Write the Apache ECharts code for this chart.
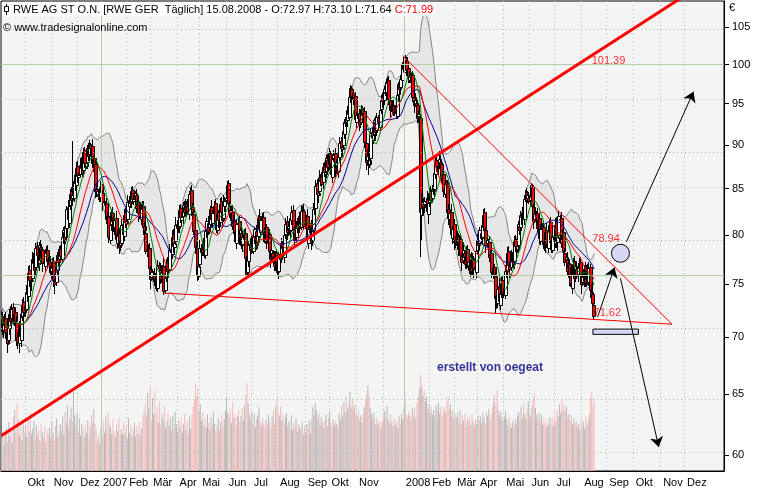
<!DOCTYPE html>
<html><head><meta charset="utf-8">
<script src="https://cdn.jsdelivr.net/npm/echarts@6/dist/echarts.min.js"></script>
<style>html,body{margin:0;padding:0;background:#fff}#c{width:760px;height:490px}</style>
</head><body><div id="c"></div>
<script>
// ---------- data (RWE AG, daily, 04.09.2006 - 15.08.2008), estimated from the chart ----------
const closeP = [
72.0,70.6,71.3,71.5,70.5,69.5,71.2,72.2,71.5,72.6,
71.7,72.2,71.5,69.7,69.6,71.2,70.1,71.9,73.0,72.3,
72.9,74.3,74.1,76.1,75.4,75.4,77.5,77.7,76.4,78.7,
77.9,77.0,79.0,77.4,78.6,77.1,77.2,78.2,78.2,77.3,
77.5,76.2,76.8,76.9,75.4,75.0,76.8,77.9,77.2,78.4,
77.8,79.8,80.5,79.5,80.8,82.8,81.7,83.1,84.4,83.8,
84.3,85.9,85.6,87.3,86.4,86.5,87.7,88.2,86.8,89.2,
87.9,87.9,89.7,88.7,90.1,89.7,87.9,88.4,87.5,84.8,
84.7,84.2,84.3,85.2,84.6,83.5,83.7,83.3,81.7,81.7,
79.8,81.1,82.5,81.5,81.0,81.6,79.6,80.1,79.9,78.8,
79.5,81.1,80.1,82.1,81.4,81.5,83.5,83.8,83.4,84.7,
83.9,83.9,84.5,82.9,83.6,82.3,82.1,82.9,82.8,80.8,
80.5,78.4,78.6,78.4,76.6,75.5,76.2,75.9,75.3,75.4,
75.0,76.8,76.6,75.5,76.2,76.6,74.4,75.6,76.9,76.3,
76.8,78.5,78.2,79.8,78.9,79.2,81.1,81.2,80.7,82.7,
81.9,81.9,83.2,82.5,83.4,82.9,82.6,84.4,84.6,82.8,
82.5,80.4,78.8,78.4,75.9,76.8,78.7,78.7,78.3,79.2,
78.2,80.4,81.5,80.5,81.3,82.8,81.7,82.3,83.1,81.3,
80.8,82.3,81.6,83.3,82.4,81.6,83.5,83.7,84.0,85.4,
83.4,82.2,82.7,81.0,81.6,80.2,79.6,81.2,81.2,79.8,
80.5,79.0,79.8,79.9,77.6,76.0,77.7,79.0,78.5,79.4,
78.7,79.8,80.6,79.0,80.0,81.8,80.7,81.6,81.6,80.1,
79.8,80.8,79.4,79.8,78.4,77.5,78.5,77.7,76.8,77.9,
77.2,76.2,78.0,77.5,79.2,78.7,78.1,80.0,81.2,80.3,
81.0,80.4,81.8,82.4,80.6,79.6,80.2,81.1,80.7,82.0,
81.2,82.6,82.8,81.0,81.3,81.8,79.6,80.6,80.8,79.3,
80.8,82.8,83.1,85.3,84.4,84.5,86.3,86.2,85.5,87.4,
86.9,86.9,88.5,87.5,89.1,87.7,86.7,88.4,88.8,87.1,
88.0,86.9,88.8,90.2,89.6,89.8,91.7,92.7,92.7,94.2,
93.7,95.8,97.0,96.0,95.6,95.8,93.1,93.6,93.6,92.5,
93.1,94.3,93.6,93.8,90.4,88.0,88.7,87.7,88.2,91.4,
90.9,91.2,93.0,91.5,93.4,92.7,92.6,94.2,95.5,95.3,
96.8,96.4,97.8,97.7,95.6,94.2,94.7,94.7,94.0,94.4,
93.8,96.1,97.5,96.8,98.1,100.0,99.4,100.9,100.1,99.3,
98.3,98.5,98.4,98.3,95.9,94.8,95.5,94.7,93.2,93.7,
82.4,82.9,83.5,83.0,83.6,83.7,82.6,83.4,84.5,83.8,
85.0,84.9,86.8,87.9,87.6,87.5,88.4,87.7,86.2,86.4,
84.7,85.6,85.5,82.5,81.8,82.3,80.1,80.6,80.9,79.3,
79.3,79.8,78.6,79.3,77.9,77.2,78.5,77.7,77.0,78.4,
77.2,76.4,77.7,76.3,77.6,76.5,76.6,78.4,79.5,79.0,
80.5,79.7,81.1,82.1,80.6,79.0,79.5,79.2,77.7,77.9,
76.2,76.6,76.0,73.7,73.3,74.6,73.4,74.1,75.1,74.1,
74.3,76.3,76.6,78.1,76.9,76.5,77.7,77.8,77.0,79.4,
78.9,78.9,81.2,80.5,82.1,82.0,82.1,83.9,84.3,83.8,
84.3,83.7,84.3,85.4,83.1,81.5,82.2,82.2,80.7,81.6,
79.7,80.6,81.0,79.1,79.1,80.3,79.1,80.4,81.1,79.3,
78.8,79.8,79.4,81.1,79.4,79.8,82.0,81.7,79.2,80.1,
78.4,77.2,77.7,76.3,77.1,75.7,75.1,75.9,77.0,75.6,
76.8,75.9,76.8,76.9,75.9,75.0,75.7,76.5,75.2,76.4,
75.5,76.6,74.5,73.8,73.2,71.99];

const openP = [
71.8,71.7,70.7,71.1,71.8,70.4,69.7,70.8,72.3,71.8,
72.8,71.4,72.3,71.3,70.0,69.5,71.4,69.7,72.0,73.3,
72.5,72.6,74.4,73.9,76.4,75.3,75.6,77.1,77.8,76.7,
78.9,77.6,77.1,78.8,77.7,78.5,77.3,76.8,78.3,78.5,
77.5,77.2,76.3,76.6,77.2,75.3,75.2,76.4,78.0,77.5,
78.6,77.5,79.9,80.3,79.8,80.7,83.0,81.3,83.2,84.7,
84.0,84.0,86.0,85.4,87.6,86.3,86.7,87.3,88.3,87.1,
89.4,87.6,88.0,89.5,89.0,90.0,89.9,87.5,88.5,87.8,
85.0,84.4,84.3,84.1,85.5,84.5,83.7,83.3,83.4,82.0,
81.9,79.5,81.2,82.3,81.8,80.9,81.8,79.2,80.2,80.2,
79.0,79.2,81.2,79.9,82.4,81.3,81.7,83.1,83.9,83.7,
84.9,83.6,84.0,84.3,83.2,83.5,82.5,81.7,83.0,83.1,
81.0,80.2,78.5,78.4,78.7,76.5,75.7,75.8,76.0,75.6,
75.6,74.7,76.9,76.4,75.8,76.1,76.8,74.5,75.7,77.2,
76.5,76.5,78.6,78.0,80.1,78.8,79.4,80.7,81.3,81.0,
82.9,81.6,82.0,83.0,82.8,83.3,83.1,82.2,84.5,84.9,
83.0,82.2,80.5,78.6,78.7,75.8,77.0,78.3,78.8,78.6,
79.4,77.9,80.5,81.3,80.8,81.2,83.0,81.3,82.4,83.4,
81.5,80.5,82.4,81.4,83.6,82.3,81.8,83.1,83.8,84.3,
85.6,83.1,82.3,82.5,81.3,81.5,80.4,79.2,81.3,81.5,
80.0,80.2,79.1,79.6,80.2,77.5,76.2,77.3,79.1,78.8,
79.6,78.4,79.9,80.4,79.3,79.9,82.0,80.3,81.7,81.9,
80.3,79.5,80.9,79.2,80.1,78.3,77.7,78.1,77.8,77.1,
78.1,76.9,76.3,77.8,77.8,79.1,78.9,77.7,80.1,81.5,
80.5,80.7,80.5,81.6,82.7,80.5,79.8,79.8,81.2,81.0,
82.2,80.9,82.7,82.6,81.3,81.2,82.0,79.2,80.7,81.1,
79.5,80.5,82.9,82.9,85.6,84.3,84.7,85.9,86.3,85.8,
87.6,86.6,87.0,88.3,87.8,89.0,87.9,86.3,88.5,89.1,
87.3,87.7,87.0,88.6,90.5,89.5,90.0,91.3,92.8,93.0,
94.4,93.4,95.9,96.8,96.3,95.5,96.0,92.7,93.7,93.9,
92.7,92.8,94.4,93.4,94.1,90.3,88.2,88.3,87.8,88.5,
91.6,90.6,91.3,92.8,91.8,93.3,92.9,92.2,94.3,95.8,
95.5,96.5,96.5,97.6,98.0,95.5,94.4,94.3,94.8,94.3,
94.6,93.5,96.2,97.3,97.1,98.0,100.2,99.0,101.0,100.4,
99.5,98.0,98.6,98.2,98.6,95.8,95.0,95.1,94.8,93.5,
93.3,82.1,83.0,83.3,83.3,83.5,83.9,82.2,83.5,84.8,
84.0,84.7,85.0,86.6,88.2,87.5,87.7,88.0,87.8,86.5,
86.6,84.4,85.7,85.3,82.8,81.7,82.5,79.7,80.7,81.2,
79.5,79.0,79.9,78.4,79.6,77.8,77.4,78.1,77.8,77.3,
78.6,76.9,76.5,77.5,76.6,77.5,76.7,76.2,78.5,79.8,
79.2,80.2,79.8,80.9,82.4,80.5,79.2,79.1,79.3,78.0,
78.1,75.9,76.7,75.8,74.0,73.2,74.8,73.0,74.2,75.4,
74.3,74.0,76.4,76.4,78.4,76.8,76.7,77.3,77.9,77.3,
79.6,78.6,79.0,81.0,80.8,82.0,82.2,81.7,84.0,84.6,
84.0,84.0,83.8,84.1,85.2,83.0,81.7,81.8,82.3,81.0,
81.8,79.4,80.7,80.8,79.4,79.0,80.5,78.7,80.5,81.4,
79.5,78.5,79.9,79.2,81.4,79.3,80.0,81.6,81.8,79.5,
80.3,78.1,77.3,77.5,76.6,77.0,75.9,74.7,76.0,77.3,
75.8,76.5,76.0,76.6,77.2,75.8,75.2,75.3,76.6,75.5,
76.6,75.2,76.7,74.3,74.1,72.97];

const highP = [
72.4,72.3,71.6,72.2,72.3,70.7,72.0,72.6,72.9,73.1,
73.2,72.8,72.6,72.0,70.5,71.5,72.2,72.3,73.6,73.8,
73.3,74.9,74.7,76.8,76.9,75.7,78.3,78.1,78.4,79.2,
79.3,78.2,79.3,79.5,79.1,78.8,78.1,78.6,78.9,79.0,
77.9,77.8,77.1,77.6,77.7,75.6,77.6,78.3,78.6,78.9,
79.0,80.4,80.8,81.0,81.3,83.1,83.8,83.5,85.0,85.2,
90.5,86.5,86.3,88.0,88.1,86.8,88.5,88.6,88.9,89.7,
89.8,88.5,90.0,90.2,90.6,90.3,90.7,88.8,89.1,88.3,
85.4,85.0,84.6,85.9,86.0,84.8,84.5,83.7,84.0,82.5,
82.3,81.7,82.8,83.0,82.3,81.9,82.6,80.5,80.8,80.7,
79.9,81.7,81.5,82.8,82.9,81.8,84.3,84.2,84.5,85.2,
85.3,84.5,84.8,85.0,84.1,83.8,83.3,83.3,83.6,83.6,
81.4,80.8,78.9,79.1,79.2,76.8,77.0,76.3,76.6,76.1,
76.0,77.4,77.2,77.1,76.7,76.9,77.6,76.0,77.5,77.7,
77.2,79.1,78.9,80.5,80.6,79.5,81.9,81.6,81.9,83.2,
83.3,82.5,83.5,83.7,83.9,83.6,83.9,84.8,85.2,85.4,
83.4,82.8,80.8,79.3,79.2,77.1,79.5,79.1,79.4,79.7,
79.8,81.0,81.8,82.0,81.8,83.1,83.8,82.7,83.7,83.9,
81.9,82.9,82.7,84.0,84.1,82.6,84.3,84.1,84.6,85.9,
86.0,83.7,83.0,83.2,82.1,81.8,81.2,81.6,81.9,82.0,
80.9,80.8,80.1,80.6,80.7,77.8,78.5,79.4,79.7,79.9,
80.0,80.4,80.9,81.1,80.5,82.1,82.8,82.0,82.3,82.4,
80.7,81.4,81.2,80.5,80.6,78.6,79.3,78.5,78.4,78.4,
78.5,77.5,78.3,78.5,79.7,79.4,79.7,80.4,81.8,82.0,
81.4,81.3,82.1,83.1,83.2,80.8,81.0,81.5,81.8,82.5,
82.6,83.2,83.1,83.3,81.8,82.1,82.8,81.0,81.4,81.6,
81.2,83.4,83.4,86.0,86.1,84.8,87.1,86.6,86.9,87.9,
88.0,87.5,88.8,89.0,89.6,89.3,88.7,88.8,89.4,89.6,
88.4,88.3,89.1,90.9,91.0,90.1,92.5,93.1,93.4,94.7,
94.8,96.4,97.3,97.2,96.8,96.1,96.5,94.0,94.3,94.4,
93.5,94.9,94.7,94.5,94.6,90.6,89.5,88.7,88.8,91.9,
92.0,91.8,93.3,93.5,93.9,93.6,93.7,94.6,96.1,96.3,
97.2,97.1,98.1,98.4,98.5,95.8,95.5,95.1,95.4,94.9,
95.0,96.7,97.8,98.0,98.6,100.3,101.0,101.39,101.2,100.9,
99.9,99.1,98.9,99.0,99.1,96.1,96.3,95.5,95.4,94.2,
93.5,84.5,84.2,84.0,84.1,84.0,84.7,83.8,85.1,85.3,
85.4,85.5,87.1,88.6,88.7,87.8,89.3,88.8,88.4,87.0,
87.0,86.2,86.0,86.0,83.3,82.6,83.3,81.0,81.5,81.7,
79.9,80.4,80.2,80.0,80.1,78.1,79.3,78.5,78.4,78.9,
79.0,77.5,78.0,78.2,78.1,77.8,77.5,78.8,80.1,80.3,
80.9,80.8,81.4,82.8,82.9,80.8,80.3,79.6,79.9,78.5,
78.5,77.2,77.0,76.5,74.5,74.9,75.6,74.5,75.7,75.9,
74.7,76.9,76.9,78.8,78.9,77.1,78.5,78.2,78.5,79.9,
80.0,79.5,81.5,81.7,82.6,82.3,83.0,84.3,84.9,85.1,
84.7,84.6,84.6,85.6,85.5,83.3,83.0,82.6,82.9,82.1,
82.2,81.2,81.3,81.5,79.9,80.6,81.3,80.8,81.7,81.9,
79.9,80.4,80.2,81.8,81.9,80.1,82.6,82.1,82.4,80.6,
80.7,78.7,78.0,78.2,77.6,77.3,76.7,76.3,77.6,77.8,
77.2,77.1,77.1,77.6,77.7,76.1,76.5,76.9,77.2,76.9,
77.0,77.2,77.0,75.0,74.6,73.10];

const lowP = [
71.3,70.3,70.0,70.7,69.9,68.7,69.4,70.3,71.1,71.1,
71.2,71.1,70.8,69.3,69.0,68.7,69.8,69.2,71.6,71.6,
72.0,72.3,73.4,73.5,74.8,74.5,75.3,76.6,76.0,76.0,
77.4,76.7,76.4,77.0,77.1,76.3,76.9,76.3,77.8,76.6,
77.0,75.9,75.6,76.2,74.8,74.2,74.9,75.9,76.8,76.8,
77.3,77.2,79.2,79.1,79.2,79.9,81.4,80.8,82.8,83.1,
83.5,83.7,84.9,85.0,85.8,85.5,86.4,86.8,86.4,86.4,
87.4,87.3,87.3,88.3,88.4,88.9,87.6,87.0,87.1,84.1,
84.2,83.9,83.6,83.7,84.0,82.7,83.4,82.8,81.3,81.0,
79.3,79.2,80.5,81.1,80.4,80.1,79.3,78.7,79.5,78.1,
78.5,78.9,79.4,79.5,80.8,80.5,81.4,82.6,83.0,83.0,
83.4,83.3,83.3,82.5,82.6,81.5,81.8,81.2,82.4,80.1,
80.0,78.1,77.8,78.0,76.0,74.7,75.4,75.3,74.9,74.7,
74.5,74.4,75.9,75.1,75.2,75.3,74.1,74.2,75.3,75.6,
76.0,76.2,77.5,77.6,78.3,78.0,79.1,80.2,80.3,80.3,
81.4,81.3,81.3,82.1,82.2,82.1,82.3,81.7,84.1,82.1,
82.0,80.1,78.1,78.0,75.4,75.5,76.7,77.8,77.9,77.9,
77.7,77.6,79.8,80.1,80.2,80.4,81.4,80.8,82.0,80.6,
80.3,80.2,80.9,81.0,81.8,80.8,81.5,82.6,83.4,83.6,
82.9,81.9,81.6,80.6,80.7,79.4,79.3,78.7,80.8,79.1,
79.5,78.7,78.4,79.2,77.0,75.6,75.9,76.8,78.1,78.1,
78.2,78.1,79.2,78.6,78.7,79.1,80.4,79.8,81.2,79.4,
79.3,79.2,78.7,78.8,77.8,76.7,77.4,77.2,76.4,76.4,
76.7,75.9,75.6,77.1,77.2,77.9,77.8,77.2,79.7,79.6,
80.0,80.1,79.8,81.2,80.0,78.8,79.5,79.3,80.3,80.3,
80.7,80.6,82.0,80.6,80.7,80.4,79.3,78.7,80.3,78.6,
79.0,80.2,82.2,82.5,83.8,83.5,84.4,85.4,85.1,85.1,
86.4,86.3,86.3,87.1,87.2,86.9,86.4,85.8,88.1,86.4,
86.8,86.6,86.3,88.2,89.0,88.7,89.7,90.8,92.3,92.3,
93.2,93.1,95.2,95.6,95.0,94.7,92.8,92.2,93.2,91.8,
92.2,92.5,92.9,93.0,89.8,87.2,87.9,86.7,87.4,87.8,
90.4,90.3,90.6,91.1,91.2,91.9,92.3,91.7,93.9,94.6,
95.0,96.1,95.8,97.2,95.0,93.4,94.1,93.8,93.6,93.6,
93.3,93.2,95.5,96.4,96.5,97.2,99.1,98.5,99.7,98.6,
97.8,97.7,97.7,97.8,95.3,94.0,94.7,94.2,92.8,92.8,
77.8,79.5,82.1,82.3,82.4,82.7,82.3,81.3,83.1,83.1,
83.5,84.4,84.3,86.2,87.0,86.7,87.4,87.2,85.8,85.7,
84.2,84.1,84.8,82.1,81.2,80.9,79.8,79.2,80.3,78.6,
78.8,78.7,77.9,78.0,77.3,76.4,77.1,77.2,76.6,76.6,
76.7,76.1,75.8,75.9,76.0,75.7,76.3,75.7,78.1,78.3,
78.7,79.4,79.1,80.5,80.0,78.2,78.9,78.6,77.3,77.2,
75.7,75.6,75.3,72.3,72.7,72.8,73.1,72.6,73.8,73.4,
73.8,73.7,75.7,76.0,76.3,75.7,76.4,76.8,76.6,76.6,
78.4,78.3,78.3,80.1,80.2,81.2,81.8,81.2,83.6,83.1,
83.5,83.4,83.1,83.7,82.5,80.7,81.4,81.3,80.3,80.3,
79.2,79.1,80.0,78.7,78.5,78.2,78.8,78.2,80.1,78.6,
78.3,78.2,78.7,78.8,78.8,78.5,79.7,81.1,78.8,78.8,
77.9,76.9,76.6,75.9,76.0,74.9,74.8,74.2,75.6,74.9,
75.3,75.6,75.3,76.2,75.3,74.2,74.9,74.8,74.8,74.8,
75.0,74.9,73.8,73.4,72.6,71.64];

// daily volume, million shares
const volume = [
3.5,4.2,2.8,3.9,4.6,3.1,5.2,3.7,4.4,3.0,
5.8,6.5,4.1,7.2,5.5,3.8,4.7,3.3,5.1,4.0,
4.8,3.6,5.5,4.2,6.1,3.9,4.5,5.3,3.4,4.9,
3.8,4.4,3.2,5.0,4.1,3.6,4.7,3.1,4.3,3.9,
4.6,3.5,5.2,4.0,3.3,4.8,5.6,3.7,4.2,5.0,
4.4,5.8,3.9,6.3,5.1,7.0,4.6,5.5,6.8,5.2,
8.4,5.9,4.8,6.2,4.1,5.6,3.8,5.0,4.5,3.6,
4.9,4.0,5.4,3.5,4.7,6.0,5.2,6.6,5.0,4.3,
3.2,3.9,2.9,4.6,3.7,5.3,4.1,5.8,4.4,6.2,
5.1,4.7,3.9,5.5,4.2,3.6,5.0,4.3,5.7,3.8,
4.5,3.9,5.2,4.0,4.8,3.5,5.6,4.1,4.9,3.7,
4.4,5.1,3.6,4.7,4.0,5.3,3.8,4.6,5.9,6.4,
7.1,5.8,8.3,6.6,9.0,5.4,7.8,6.1,8.6,5.9,
6.8,5.2,7.4,4.9,6.0,5.5,6.9,4.6,5.3,6.2,
4.8,5.7,4.3,5.9,4.6,6.3,5.0,4.2,5.4,4.7,
5.6,4.1,5.0,6.1,4.4,5.2,3.9,5.8,4.5,6.0,
6.9,7.6,9.2,8.0,8.8,6.4,7.1,5.3,6.2,4.9,
5.5,4.6,6.0,5.1,4.4,5.7,4.8,6.3,5.0,4.2,
4.9,5.6,4.3,5.2,6.0,4.7,5.5,6.4,7.8,6.2,
5.7,6.6,5.1,7.3,5.6,6.0,4.9,5.8,6.5,5.2,
5.9,6.7,5.4,7.0,8.1,9.3,7.2,6.0,5.5,6.3,
5.0,6.1,4.7,5.6,5.9,6.8,5.3,4.8,5.7,5.1,
4.6,5.4,4.9,6.0,5.2,4.5,5.8,6.4,5.1,6.9,
7.5,6.3,5.8,6.9,5.4,6.1,5.0,5.7,6.2,4.8,
5.3,4.6,5.9,4.4,5.1,4.8,5.6,4.2,5.0,4.7,
4.3,5.2,3.9,4.8,4.1,5.0,4.5,5.4,4.0,5.6,
6.8,5.9,7.3,6.4,5.5,6.1,4.9,5.7,5.2,4.6,
5.4,6.0,4.8,5.6,6.3,5.1,4.7,5.5,4.9,5.3,
5.0,4.6,6.2,5.5,6.9,5.8,7.4,6.3,7.9,6.6,
7.2,8.4,6.8,7.7,6.5,7.0,6.1,5.8,6.4,5.5,
5.9,5.2,6.0,6.8,7.5,8.2,9.1,8.0,6.7,6.1,
5.6,6.2,5.0,5.7,4.9,5.4,5.1,4.6,5.3,6.0,
6.4,5.7,6.9,5.5,5.1,6.0,5.3,4.8,5.6,4.9,
5.2,4.5,5.8,5.0,6.1,5.5,6.6,7.4,6.0,5.7,
6.3,5.9,5.4,6.7,6.0,6.8,5.6,7.2,7.9,8.8,
10.2,9.1,8.0,8.6,7.4,7.9,6.6,7.1,6.2,6.8,
6.0,6.5,5.8,7.0,6.4,7.3,6.1,6.9,5.9,6.5,
6.8,6.2,7.4,7.9,6.6,7.1,5.8,6.4,5.5,6.0,
5.7,6.2,5.3,6.5,5.0,5.9,5.4,6.1,4.8,5.6,
5.2,5.8,4.9,6.0,5.3,4.7,5.5,5.0,5.9,5.4,
5.8,5.1,6.2,5.6,5.0,6.3,5.9,6.6,5.4,6.1,
6.7,7.4,8.1,7.0,8.6,6.5,5.9,6.3,5.6,5.2,
5.8,6.4,5.5,4.9,5.7,5.1,4.6,5.3,4.8,5.5,
5.0,5.9,6.3,5.4,6.8,5.7,7.2,6.1,5.6,6.6,
7.4,6.2,5.8,6.9,7.6,8.3,6.7,6.0,5.5,6.2,
5.4,6.0,4.9,5.6,5.1,4.7,5.3,4.9,5.7,5.0,
5.6,4.8,5.9,5.2,6.4,5.8,7.1,6.2,7.7,6.5,
7.0,6.3,6.8,5.7,6.1,5.4,5.9,5.0,5.6,4.9,
5.3,4.6,5.0,4.4,5.5,4.7,5.2,4.5,5.8,4.9,
5.4,6.0,7.8,8.5,6.9,7.6];

const priceTicks = [60,65,70,75,80,85,90,95,100,105];
const solidTicks = [75,100];
const monthNames = ['', '', 'Feb','Mär','Apr','Mai','Jun','Jul','Aug','Sep','Okt','Nov','Dez'];
const holidays = ['2006-12-25','2006-12-26','2007-01-01','2007-04-06','2007-04-09','2007-05-01',
  '2007-12-24','2007-12-25','2007-12-26','2007-12-31','2008-01-01','2008-03-21','2008-03-24',
  '2008-05-01','2008-12-24','2008-12-25','2008-12-26','2008-12-31','2009-01-01'];
const N_CAT = 604;

// ---------- helpers ----------
const dates = (function () {
  const hol = new Set(holidays), out = [];
  const d = new Date(Date.UTC(2006, 8, 4));
  while (out.length < N_CAT) {
    const w = d.getUTCDay(), s = d.toISOString().slice(0, 10);
    if (w !== 0 && w !== 6 && !hol.has(s)) out.push(s);
    d.setUTCDate(d.getUTCDate() + 1);
  }
  return out;
})();
const L = v => Math.log10(v);
const monthStarts = [];
dates.forEach((s, i) => { if (i > 0 && s.slice(0, 7) !== dates[i - 1].slice(0, 7)) monthStarts.push(i); });
const firstOf2009 = dates.findIndex(s => s.startsWith('2009'));
const tickSet = new Set(monthStarts.filter(i => i < firstOf2009));
const labelSet = new Set();
monthStarts.forEach((i, k) => {
  if (i >= firstOf2009) return;
  const next = monthStarts[k + 1] !== undefined ? monthStarts[k + 1] : N_CAT;
  if (next - i >= 18) labelSet.add(i);
});
const yearStarts = [...tickSet].filter(i => dates[i].slice(5, 7) === '01');
const dottedV = new Set([...tickSet].filter(i => !yearStarts.includes(i)));

function sma(arr, n) {
  return arr.map((_, i) => { const s = Math.max(0, i - n + 1); let t = 0; for (let k = s; k <= i; k++) t += arr[k]; return t / (i - s + 1); });
}
function boll(arr, n, k) {
  const up = [], lo = [];
  arr.forEach((_, i) => {
    const s = Math.max(0, i - n + 1), w = arr.slice(s, i + 1);
    const m = w.reduce((a, b) => a + b, 0) / w.length;
    const sd = Math.sqrt(w.reduce((a, b) => a + (b - m) * (b - m), 0) / w.length);
    up.push(m + k * sd); lo.push(m - k * sd);
  });
  return { up, lo };
}
const bb = boll(closeP, 20, 2);
const bbLo = bb.lo.map(L), bbUp = bb.up.map(L);
const bbDiff = bbUp.map((v, i) => v - bbLo[i]);
const candleData = closeP.map((c, i) => [i, L(openP[i]), L(c), L(lowP[i]), L(highP[i])]);

function renderCandle(params, api) {
  const i = api.value(0);
  const pO = api.coord([i, api.value(1)]), pC = api.coord([i, api.value(2)]);
  const pL = api.coord([i, api.value(3)]), pH = api.coord([i, api.value(4)]);
  const xc = Math.round(pO[0]);
  const top = Math.round(Math.min(pO[1], pC[1])) + 0.5;
  const bot = Math.max(Math.round(Math.max(pO[1], pC[1])) + 0.5, top + 1);
  const up = api.value(2) >= api.value(1);
  return { type: 'group', children: [
    { type: 'line', shape: { x1: xc - 0.5, y1: Math.round(pH[1]), x2: xc - 0.5, y2: Math.round(pL[1]) + 1 }, style: { stroke: '#000', lineWidth: 1 } },
    { type: 'rect', shape: { x: xc - 1.5, y: top, width: 3, height: bot - top }, style: { fill: up ? '#ffffff' : '#ff0000', stroke: '#000', lineWidth: 1 } }
  ] };
}

const FONT = 'Liberation Sans';
const dotted = { type: [1, 3], color: '#9fbf9f', width: 1 };
const solidG = { type: 'solid', color: '#b0d0a6', width: 1 };

const chart = echarts.init(document.getElementById('c'), null, { renderer: 'canvas' });
chart.setOption({
  animation: false,
  grid: { left: 1, right: 36, top: 1, bottom: 19, show: true, backgroundColor: '#f4f4f4', borderColor: '#000', borderWidth: 1 },
  xAxis: {
    type: 'category', data: dates, boundaryGap: true,
    axisLine: { lineStyle: { color: '#000' } },
    axisTick: { interval: i => tickSet.has(i), length: 5, lineStyle: { color: '#000' } },
    axisLabel: {
      interval: i => labelSet.has(i), align: 'left', margin: 6, padding: [0, 0, 0, 2],
      color: '#000', fontSize: 11, fontFamily: FONT,
      formatter: v => { const m = +v.slice(5, 7); return m === 1 ? v.slice(0, 4) : monthNames[m]; }
    },
    splitLine: { show: true, interval: i => dottedV.has(i), lineStyle: dotted }
  },
  yAxis: [{
    type: 'value', position: 'right', min: L(58.76), max: L(108.66),
    axisLine: { show: true, lineStyle: { color: '#000' } },
    axisTick: { show: true, length: 5, customValues: priceTicks.map(L), lineStyle: { color: '#000' } },
    axisLabel: { customValues: priceTicks.map(L), margin: 8, color: '#000', fontSize: 11, fontFamily: FONT,
      formatter: v => String(Math.round(Math.pow(10, v))) },
    splitLine: { show: false }
  }, {
    type: 'value', min: 0, max: 50, show: false
  }],
  series: [
    { type: 'line', z: 1, data: bbLo, stack: 'bb', symbol: 'none', lineStyle: { width: 0 }, silent: true },
    { type: 'line', z: 1, data: bbDiff, stack: 'bb', symbol: 'none', lineStyle: { width: 0 }, areaStyle: { color: '#e6e6e6', opacity: 1 }, silent: true },
    { type: 'line', z: 2, data: [], silent: true, markLine: { silent: true, symbol: 'none', label: { show: false },
        data: priceTicks.map(v => ({ yAxis: L(v), lineStyle: solidTicks.includes(v) ? solidG : dotted }))
          .concat(yearStarts.map(i => ({ xAxis: dates[i], lineStyle: solidG }))) } },
    { type: 'bar', z: 2, xAxisIndex: 0, yAxisIndex: 1, barWidth: 1, silent: true,
      data: volume.map((v, i) => ({ value: v, itemStyle: { color: closeP[i] < openP[i] ? '#f3baba' : '#b7b7b7' } })) },
    { type: 'line', z: 3, data: bbUp, symbol: 'none', lineStyle: { color: '#858585', width: 1 }, silent: true },
    { type: 'line', z: 3, data: bbLo, symbol: 'none', lineStyle: { color: '#858585', width: 1 }, silent: true },
    { type: 'custom', z: 4, data: candleData, renderItem: renderCandle, encode: { x: 0, y: [1, 2, 3, 4] }, silent: true, clip: true },
    { type: 'line', z: 5, data: sma(closeP, 30).map(L), symbol: 'none', lineStyle: { color: '#000090', width: 1 }, silent: true },
    { type: 'line', z: 5, data: sma(closeP, 20).map(L), symbol: 'none', lineStyle: { color: '#ff0000', width: 1 }, silent: true },
    { type: 'line', z: 5, data: sma(closeP, 10).map(L), symbol: 'none', lineStyle: { color: '#008000', width: 1 }, silent: true },
    // trend lines
    { type: 'line', z: 6, data: [[0, L(61.56)], [603, L(113.05)]], symbol: 'none', lineStyle: { color: '#ff0000', width: 3 }, silent: true },
    { type: 'line', z: 6, data: [[335, L(101.2)], [560, L(71.2)]], symbol: 'none', lineStyle: { color: '#ff0000', width: 1 }, silent: true },
    { type: 'line', z: 6, data: [[135, L(74.17)], [560, L(71.2)]], symbol: 'none', lineStyle: { color: '#ff0000', width: 1 }, silent: true,
      markArea: { silent: true, itemStyle: { color: '#d6d6f2', borderColor: '#000', borderWidth: 1 },
        data: [[{ coord: [494, L(70.75)] }, { coord: [532, L(70.26)] }]] } },
    // arrows
    { type: 'line', z: 7, data: [], silent: true, markLine: { silent: true, symbol: ['none', 'arrow'], symbolSize: 10,
        label: { show: false }, lineStyle: { color: '#000', width: 1, type: 'solid' },
        data: [
          [{ coord: [498, L(71.89)] }, { coord: [512, L(76.69)] }],
          [{ coord: [517, L(75.60)] }, { coord: [549, L(60.63)] }],
          [{ coord: [522, L(79.30)] }, { coord: [578, L(96.50)] }]
        ] } },
    { type: 'scatter', z: 7, data: [[517, L(78.12)]], symbol: 'circle', symbolSize: 18, silent: true,
      itemStyle: { color: '#d8d8f4', borderColor: '#000', borderWidth: 1, opacity: 1 } },
    { type: 'scatter', z: 8, symbolSize: 0, silent: true,
      label: { show: true, position: 'inside', fontFamily: FONT, fontSize: 11, color: '#ff0000' },
      data: [
        { value: [505, L(79.58)], label: { formatter: '78.94' } },
        { value: [506, L(72.29)], label: { formatter: '71.62' } },
        { value: [507, L(100.44)], label: { formatter: '101.39' } },
        { value: [408, L(67.23)], label: { formatter: 'erstellt von oegeat', color: '#000080', fontWeight: 'bold', fontSize: 12 } }
      ] }
  ],
  graphic: [
    { type: 'rect', shape: { x: 2, y: 2, width: 428, height: 14 }, style: { fill: '#ffffff' }, z: 100 },
    { type: 'line', shape: { x1: 6.5, y1: 4, x2: 6.5, y2: 15 }, style: { stroke: '#000', lineWidth: 1 }, z: 101 },
    { type: 'rect', shape: { x: 4.5, y: 6.5, width: 4, height: 5 }, style: { fill: '#fff', stroke: '#000', lineWidth: 1 }, z: 102 },
    { type: 'text', x: 13, y: 4, z: 103, style: { text: '{a|RWE AG ST O.N. [RWE GER  Täglich] 15.08.2008 - O:72.97 H:73.10 L:71.64 }{r|C:71.99}',
        font: '11px ' + FONT, rich: { a: { fill: '#000', fontSize: 11, fontFamily: FONT }, r: { fill: '#ff0000', fontSize: 11, fontFamily: FONT } } } },
    { type: 'text', x: 3, y: 22, z: 103, style: { text: '© www.tradesignalonline.com', font: '11px ' + FONT, fill: '#000' } },
    { type: 'text', x: 729, y: 2, z: 103, style: { text: '€', font: '11px ' + FONT, fill: '#000' } }
  ]
});
</script></body></html>
